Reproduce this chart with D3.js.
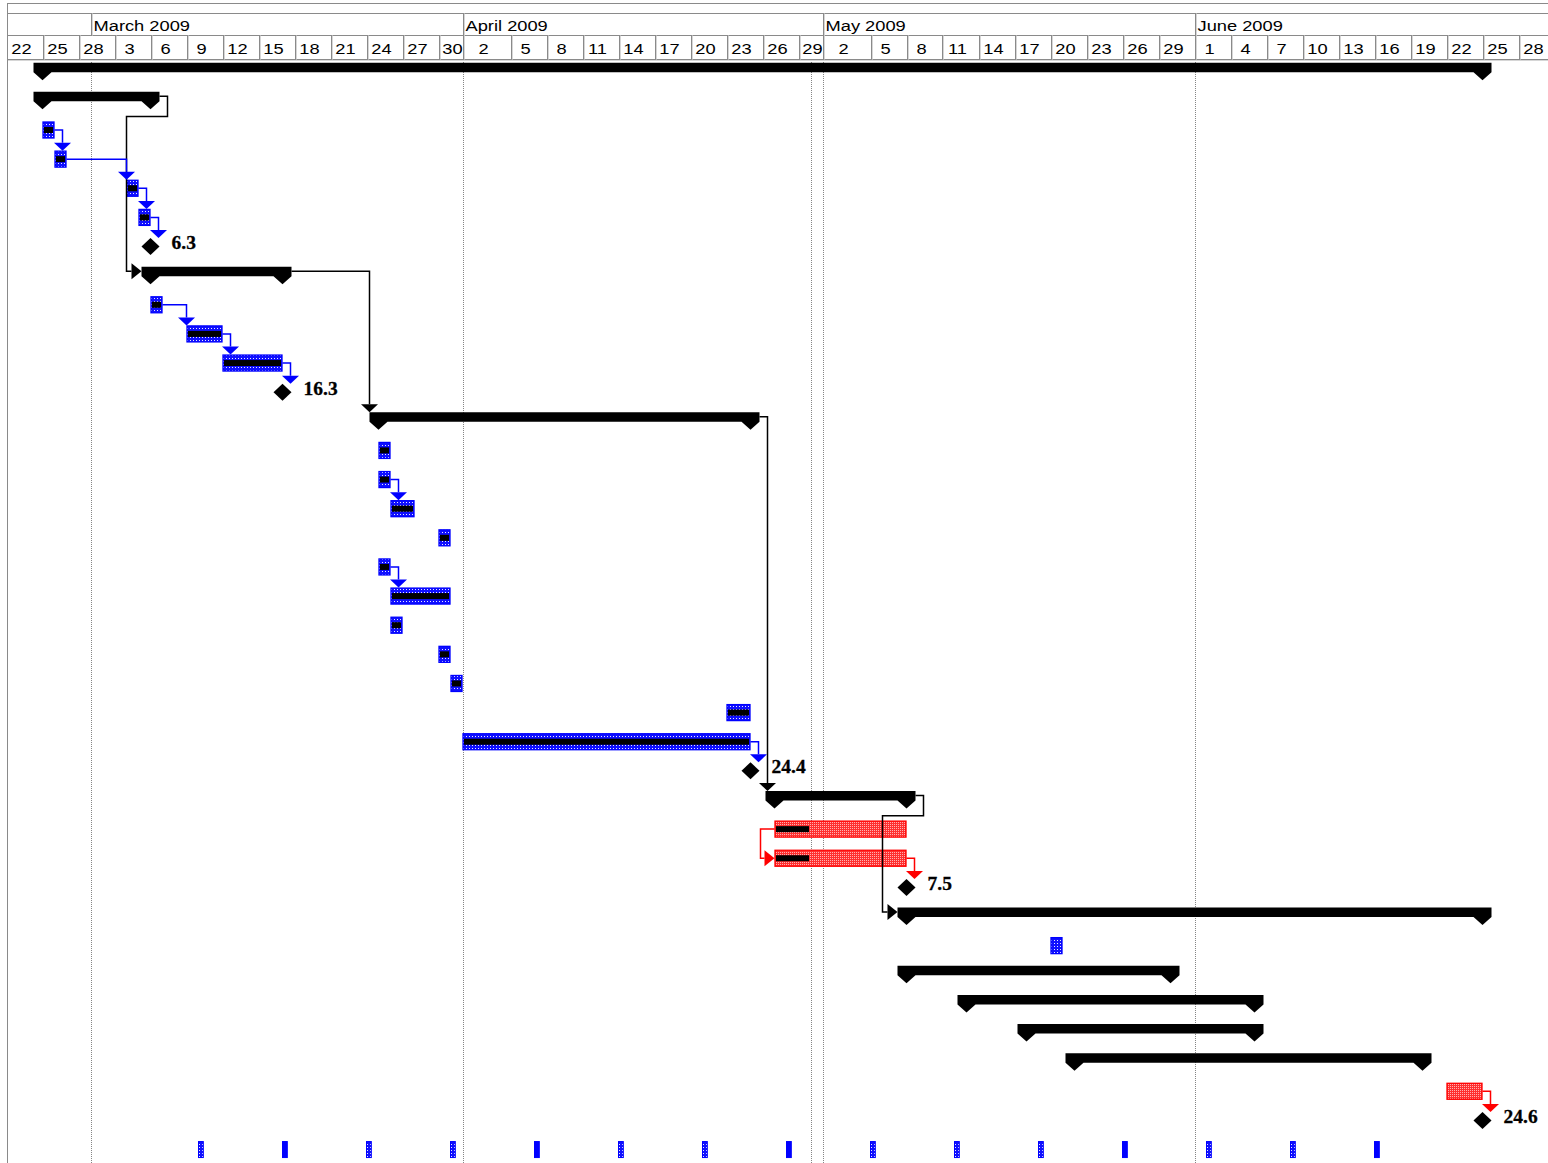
<!DOCTYPE html>
<html><head><meta charset="utf-8">
<script src="https://cdn.jsdelivr.net/npm/d3@7"></script>
<style>html,body{margin:0;padding:0;background:#fff;overflow:hidden}</style>
</head><body>
<svg id="chart" width="1548" height="1163"></svg>
<script>
// ---------------- DATA ----------------
const viewStart = "2009-02-22";
const viewEnd = "2009-07-01";
const statusDate = "2009-04-30";
const monthStarts = ["2009-03-01", "2009-04-01", "2009-05-01", "2009-06-01"];
const monthLabels = ["March 2009", "April 2009", "May 2009", "June 2009"];
const dayTicks = ["2009-02-22","2009-02-25","2009-02-28","2009-03-03","2009-03-06","2009-03-09","2009-03-12",
  "2009-03-15","2009-03-18","2009-03-21","2009-03-24","2009-03-27","2009-03-30","2009-04-02","2009-04-05",
  "2009-04-08","2009-04-11","2009-04-14","2009-04-17","2009-04-20","2009-04-23","2009-04-26","2009-04-29",
  "2009-05-02","2009-05-05","2009-05-08","2009-05-11","2009-05-14","2009-05-17","2009-05-20","2009-05-23",
  "2009-05-26","2009-05-29","2009-06-01","2009-06-04","2009-06-07","2009-06-10","2009-06-13","2009-06-16",
  "2009-06-19","2009-06-22","2009-06-25","2009-06-28"];

const rowType = ["summary","summary","task","task","task","task","milestone",
  "summary","task","task","task","milestone",
  "summary","task","task","task","task","task","task","task","task","task","task","task","milestone",
  "summary","task","task","milestone",
  "summary","task","summary","summary","summary","summary","task","milestone","recurring"];
const rowStart = ["2009-02-25","2009-02-25","2009-02-25","2009-02-26","2009-03-04","2009-03-05","2009-03-06",
  "2009-03-06","2009-03-06","2009-03-09","2009-03-12","2009-03-17",
  "2009-03-25","2009-03-25","2009-03-25","2009-03-26","2009-03-30","2009-03-25","2009-03-26","2009-03-26","2009-03-30","2009-03-31","2009-04-23","2009-04-01","2009-04-25",
  "2009-04-27","2009-04-27","2009-04-27","2009-05-08",
  "2009-05-08","2009-05-20","2009-05-08","2009-05-13","2009-05-18","2009-05-22","2009-06-22","2009-06-25",null];
const rowFinish = ["2009-06-25","2009-03-06","2009-02-26","2009-02-27","2009-03-05","2009-03-06",null,
  "2009-03-17","2009-03-07","2009-03-12","2009-03-17",null,
  "2009-04-25","2009-03-26","2009-03-26","2009-03-28","2009-03-31","2009-03-26","2009-03-31","2009-03-27","2009-03-31","2009-04-01","2009-04-25","2009-04-25",null,
  "2009-05-08","2009-05-08","2009-05-08",null,
  "2009-06-25","2009-05-21","2009-05-30","2009-06-06","2009-06-06","2009-06-20","2009-06-25",null,null];
const rowCritical = [false,false,false,false,false,false,false,
  false,false,false,false,false,
  false,false,false,false,false,false,false,false,false,false,false,false,false,
  false,true,true,true,
  false,false,false,false,false,false,true,true,false];
// actual progress reached (null = not started)
const rowDoneTo = [null,null,"2009-02-26","2009-02-27","2009-03-05","2009-03-06",null,
  null,"2009-03-07","2009-03-12","2009-03-17",null,
  null,"2009-03-26","2009-03-26","2009-03-28","2009-03-31","2009-03-26","2009-03-31","2009-03-27","2009-03-31","2009-04-01","2009-04-25","2009-04-25",null,
  null,"2009-04-30","2009-04-30",null,
  null,null,null,null,null,null,null,null,null];
const milestoneLabels = {6: "6.3", 11: "16.3", 24: "24.4", 28: "7.5", 36: "24.6"};

const linkFrom = [1, 2, 3, 4, 5, 7, 8, 9, 10, 12, 14, 17, 23, 25, 26, 27, 35];
const linkTo   = [7, 3, 4, 5, 6, 12, 9, 10, 11, 25, 15, 18, 24, 29, 27, 28, 36];
const linkKind = ["FS","FS","FS","FS","FS","FS","FS","FS","FS","FS","FS","FS","FS","FS","SS","FS","FS"];

const recurDates = ["2009-03-10","2009-03-17","2009-03-24","2009-03-31","2009-04-07","2009-04-14","2009-04-21",
  "2009-04-28","2009-05-05","2009-05-12","2009-05-19","2009-05-26","2009-06-02","2009-06-09","2009-06-16"];
const recurSolid = [false,true,false,false,true,false,false,true,false,false,false,true,false,false,true];
const recurDurationDays = 0.4;

// ---------------- CHART ----------------
const parse = d3.utcParse("%Y-%m-%d");
const DAY = 864e5;
const W = 1548, H = 1163;
const svg = d3.select("#chart");

const x = d3.scaleUtc().domain([parse(viewStart), parse(viewEnd)]).range([6.5, 6.5 + 129 * 12]);
const y = d3.scalePoint().domain(d3.range(rowType.length)).range([71.74, 71.74 + 29.13 * (rowType.length - 1)]);

const BLUE = "#0000ff", RED = "#ff0000";

const defs = svg.append("defs");
const pb = defs.append("pattern").attr("id", "patBlue").attr("width", 3).attr("height", 3).attr("patternUnits", "userSpaceOnUse");
pb.append("rect").attr("width", 3).attr("height", 3).attr("fill", "#1010ff");
pb.append("rect").attr("x", 1).attr("y", 1).attr("width", 1).attr("height", 1).attr("fill", "#e8e8ff");
const pr = defs.append("pattern").attr("id", "patRed").attr("width", 2).attr("height", 2).attr("patternUnits", "userSpaceOnUse");
pr.append("rect").attr("width", 2).attr("height", 2).attr("fill", "#ff3030");
pr.append("rect").attr("width", 1).attr("height", 1).attr("fill", "#ffb0b0");
defs.append("clipPath").attr("id", "clipArea").append("rect").attr("x", 8).attr("y", 0).attr("width", W - 8).attr("height", H);

const root = svg.append("g").attr("clip-path", "url(#clipArea)");

// ---------- vertical dotted gridlines ----------
const gridDates = monthStarts.concat([statusDate]);
root.append("g").selectAll("line").data(gridDates).join("line")
  .attr("x1", d => Math.round(x(parse(d))) + 0.5).attr("x2", d => Math.round(x(parse(d))) + 0.5)
  .attr("y1", 60).attr("y2", H)
  .attr("stroke", "#858585").attr("stroke-width", 1).attr("stroke-dasharray", "1,1");

// ---------- header ----------
const hdr = svg.append("g");
const HL = "#8a8a8a", HL2 = "#d6d6d6";
[3.5, 13.5, 35.5, 59.5].forEach(yy => {
  hdr.append("line").attr("x1", 7.5).attr("x2", W).attr("y1", yy).attr("y2", yy).attr("stroke", HL);
});
hdr.append("line").attr("x1", 8).attr("x2", W).attr("y1", 60.5).attr("y2", 60.5).attr("stroke", HL2);
hdr.append("line").attr("x1", 7.5).attr("x2", 7.5).attr("y1", 3).attr("y2", H).attr("stroke", HL);

const monthX = monthStarts.map(d => x(parse(d)));
// day tier dividers (a tick just after a month start snaps to that month start)
const monthSet = new Set(monthStarts);
const fmtDate = d3.utcFormat("%Y-%m-%d");
const divX = dayTicks.map(d => {
  const prev = fmtDate(new Date(parse(d).getTime() - DAY));
  return monthSet.has(prev) ? x(parse(prev)) : x(parse(d));
});
function vdiv(g, xx, y1, y2) {
  const xr = Math.round(xx) + 0.5;
  g.append("line").attr("x1", xr).attr("x2", xr).attr("y1", y1).attr("y2", y2).attr("stroke", HL);
  g.append("line").attr("x1", xr + 1).attr("x2", xr + 1).attr("y1", y1).attr("y2", y2).attr("stroke", HL2);
}
divX.forEach(xx => { if (xx > 9) vdiv(hdr, xx, 35.5, 59.5); });
monthX.forEach(xx => vdiv(hdr, xx, 13.5, 35.5));

const fmtDay = d3.utcFormat("%-d");
hdr.selectAll("text.day").data(dayTicks).join("text").attr("class", "day")
  .attr("transform", (d, i) => {
    const a = divX[i], b = i < divX.length - 1 ? divX[i + 1] : x(parse(viewEnd));
    const off = (b - a) < 30 ? 2 : -3;
    return `translate(${(a + b) / 2 + off},53.5) scale(1.18,1)`;
  })
  .attr("text-anchor", "middle").attr("font-family", "Liberation Sans, Arial, sans-serif")
  .attr("font-size", 15.5).attr("fill", "#000").text(d => fmtDay(parse(d)));
hdr.selectAll("text.month").data(monthLabels).join("text").attr("class", "month")
  .attr("transform", (d, i) => `translate(${monthX[i] + 3},30.5) scale(1.18,1)`)
  .attr("font-family", "Liberation Sans, Arial, sans-serif")
  .attr("font-size", 15.5).attr("fill", "#000").text(d => d);

// ---------- bars ----------
function geo(i) {
  const t = rowType[i], c = y(i);
  const s = rowStart[i] ? x(parse(rowStart[i])) : 0;
  const e = rowFinish[i] ? x(parse(rowFinish[i])) : s;
  if (t === "summary") return {t, c, s, e, left: s - 9, right: e + 9, top: c - 9, linkY: c - 4.5, zoneR: s + 9};
  if (t === "milestone") return {t, c, s, e: s, left: s - 9, right: s + 9, top: c - 8.5, linkY: c, zoneR: s + 9};
  return {t, c, s, e, left: s, right: e, top: c - 8.5, linkY: c, zoneR: e};
}
const bars = root.append("g");
rowType.forEach((t, i) => {
  const g = geo(i);
  if (t === "summary") {
    const {s, e, c} = g;
    const L = s - 9, R = e + 9, T = c - 9, B = c + 0.5, A = c + 8.5;
    bars.append("path").attr("d",
      `M${L},${T}H${R}V${B}L${e},${A}L${e - 9},${B}H${s + 9}L${s},${A}L${L},${B}Z`).attr("fill", "#000");
  } else if (t === "task") {
    const col = rowCritical[i] ? RED : BLUE;
    bars.append("rect").attr("x", g.s + 0.5).attr("y", g.c - 8).attr("width", g.e - g.s - 1).attr("height", 16)
      .attr("fill", rowCritical[i] ? "url(#patRed)" : "url(#patBlue)").attr("stroke", col).attr("stroke-width", 1.3);
    if (rowDoneTo[i]) {
      const pe = x(parse(rowDoneTo[i]));
      bars.append("rect").attr("x", g.s + 1.5).attr("y", g.c - 3).attr("width", Math.max(0, pe - g.s - 3)).attr("height", 6)
        .attr("fill", "#000");
    }
  } else if (t === "milestone") {
    const {s, c} = g;
    bars.append("path").attr("d", `M${s},${c - 8.5}L${s + 9},${c}L${s},${c + 8.5}L${s - 9},${c}Z`).attr("fill", "#000");
    bars.append("text").attr("x", s + 21).attr("y", c + 2.5)
      .attr("font-family", "Liberation Serif, Times New Roman, serif").attr("font-weight", "bold")
      .attr("font-size", 19.5).attr("fill", "#000").attr("stroke", "#000").attr("stroke-width", 0.3)
      .text(milestoneLabels[i]);
  } else if (t === "recurring") {
    const c = y(i);
    recurDates.forEach((d, k) => {
      const a = x(parse(d)), b = x(new Date(parse(d).getTime() + recurDurationDays * DAY));
      bars.append("rect").attr("x", a).attr("y", c - 8).attr("width", b - a).attr("height", 16)
        .attr("fill", recurSolid[k] ? BLUE : "url(#patBlue)").attr("stroke", BLUE).attr("stroke-width", 1);
    });
  }
});

// ---------- links ----------
const links = root.append("g");
linkFrom.forEach((f, k) => {
  const t = linkTo[k];
  const p = geo(f), q = geo(t);
  const col = (p.t === "summary" && q.t === "summary") ? "#000" : (rowCritical[f] ? RED : BLUE);
  let d, arrow;
  if (linkKind[k] === "SS") {
    const xv = Math.min(p.left, q.left) - 14;
    d = `M${p.left},${p.linkY}H${xv}V${q.linkY}H${q.left - 10}`;
    arrow = `M${q.left - 10},${q.linkY - 8}L${q.left},${q.linkY}L${q.left - 10},${q.linkY + 8}Z`;
  } else {
    const xv = Math.max(p.right + 8, q.left);
    if (xv <= q.zoneR + 0.5) {
      d = `M${p.right},${p.linkY}H${xv}V${q.top - 8}`;
      arrow = `M${xv - 8.5},${q.top - 8}H${xv + 8.5}L${xv},${q.top}Z`;
    } else {
      const yb = p.c + 15.7, xb = q.left - 15;
      d = `M${p.right},${p.linkY}H${p.right + 8}V${yb}H${xb}V${q.linkY}H${q.left - 10}`;
      arrow = `M${q.left - 10},${q.linkY - 8}L${q.left},${q.linkY}L${q.left - 10},${q.linkY + 8}Z`;
    }
  }
  links.append("path").attr("d", d).attr("fill", "none").attr("stroke", col).attr("stroke-width", 1.5);
  links.append("path").attr("d", arrow).attr("fill", col);
});
</script>
</body></html>
